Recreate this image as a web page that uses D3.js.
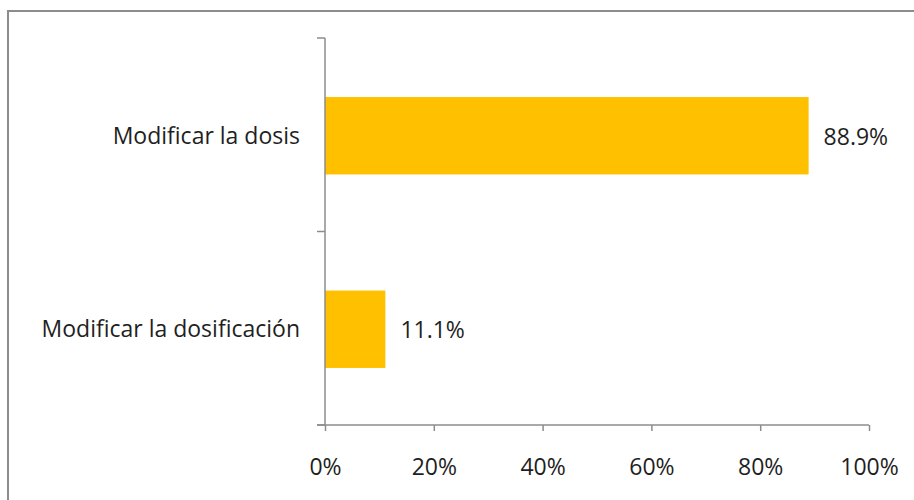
<!DOCTYPE html>
<html>
<head>
<meta charset="utf-8">
<script src="https://cdn.jsdelivr.net/npm/d3@7"></script>
<style>
  html, body { margin: 0; padding: 0; background: #fff; }
  svg text { font-family: "Open Sans", "Noto Sans", sans-serif; fill: #1f1f1f; }
</style>
</head>
<body>
<svg id="chart" width="914" height="500"></svg>
<script>
// Categories (top to bottom) and their shares
const categories = ["Modificar la dosis", "Modificar la dosificación"];
const values = [0.889, 0.111];
const valueLabels = ["88.9%", "11.1%"];
const xTicks = [0, 0.2, 0.4, 0.6, 0.8, 1.0];
const xTickLabels = ["0%", "20%", "40%", "60%", "80%", "100%"];

const svg = d3.select("#chart");
const fontSize = 23;

// Outer frame, running past the right and bottom edges
svg.append("rect")
  .attr("x", 8).attr("y", 11)
  .attr("width", 930).attr("height", 520)
  .attr("fill", "none")
  .attr("stroke", "#8c8c8c")
  .attr("stroke-width", 2);

const plot = { left: 325, right: 869, top: 38, bottom: 425 };

const x = d3.scaleLinear().domain([0, 1]).range([plot.left, plot.right]);
const y = d3.scaleBand().domain(categories).range([plot.top, plot.bottom])
  .paddingInner(0.6).paddingOuter(0.3);

const axisColor = "#8c8c8c";

// Bars
svg.append("g").selectAll("rect")
  .data(categories)
  .join("rect")
  .attr("x", x(0))
  .attr("y", d => y(d) + 1)
  .attr("width", (d, i) => x(values[i]) - x(0))
  .attr("height", y.bandwidth())
  .attr("fill", "#FFC000");

// Value labels
svg.append("g").selectAll("text")
  .data(categories)
  .join("text")
  .attr("x", (d, i) => x(values[i]) + 15)
  .attr("y", d => y(d) + y.bandwidth() / 2 + 2)
  .attr("dy", "0.35em")
  .attr("font-size", fontSize)
  .text((d, i) => valueLabels[i]);

// Category axis: line plus ticks at band boundaries
const yAxis = svg.append("g");
yAxis.append("line")
  .attr("x1", plot.left).attr("x2", plot.left)
  .attr("y1", plot.top).attr("y2", plot.bottom)
  .attr("stroke", axisColor).attr("stroke-width", 1.5);
const boundaries = d3.range(categories.length + 1)
  .map(i => plot.top + i * (plot.bottom - plot.top) / categories.length);
yAxis.selectAll("line.tick")
  .data(boundaries)
  .join("line")
  .attr("class", "tick")
  .attr("x1", plot.left - 8).attr("x2", plot.left)
  .attr("y1", d => d).attr("y2", d => d)
  .attr("stroke", axisColor).attr("stroke-width", 1.5);
yAxis.selectAll("text")
  .data(categories)
  .join("text")
  .attr("x", plot.left - 25)
  .attr("y", d => y(d) + y.bandwidth() / 2 + 1)
  .attr("dy", "0.35em")
  .attr("text-anchor", "end")
  .attr("font-size", fontSize)
  .text(d => d);

// Value axis
const xAxis = d3.axisBottom(x)
  .tickValues(xTicks)
  .tickFormat((d, i) => xTickLabels[i])
  .tickSize(6)
  .tickPadding(28);
const gx = svg.append("g")
  .attr("transform", `translate(0,${plot.bottom})`)
  .call(xAxis);
gx.select(".domain").remove();
gx.append("line")
  .attr("x1", plot.left - 8).attr("x2", plot.right)
  .attr("y1", 0).attr("y2", 0)
  .attr("stroke", axisColor).attr("stroke-width", 1.5);
gx.selectAll(".tick line").attr("stroke", axisColor).attr("stroke-width", 1.5);
gx.selectAll(".tick text")
  .attr("font-size", fontSize)
  .attr("font-family", "\"Open Sans\", \"Noto Sans\", sans-serif")
  .attr("fill", "#1f1f1f");
</script>
</body>
</html>
